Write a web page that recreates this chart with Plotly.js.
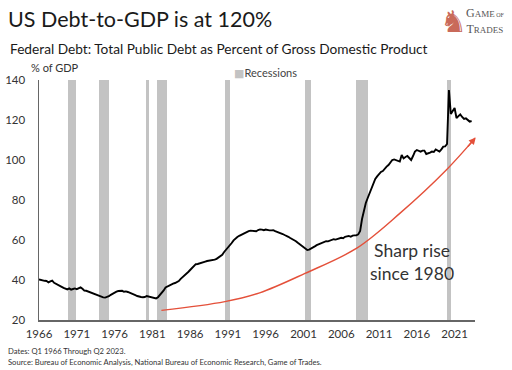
<!DOCTYPE html>
<html>
<head>
<meta charset="utf-8">
<script src="https://cdn.plot.ly/plotly-3.0.1.min.js"></script>
<style>
html,body{margin:0;padding:0;background:#fff;}
#chart{width:512px;height:370px;}
</style>
</head>
<body>
<div id="chart"></div>
<script>
// Quarterly Federal debt as % of GDP, Q1 1966 .. Q2 2023
const startYear = 1966;
const debtPct = [
  40.3, 40.0, 39.8, 39.6,   // 1966
  39.5, 38.8, 39.3, 39.7,   // 1967
  38.6, 38.0, 37.6, 37.0,   // 1968
  36.6, 36.1, 35.5, 35.3,   // 1969
  35.8, 35.2, 35.5, 35.8,   // 1970
  35.4, 35.9, 36.3, 35.6,   // 1971
  34.7, 34.6, 34.2, 33.8,   // 1972
  33.6, 33.1, 32.8, 32.5,   // 1973
  32.2, 31.7, 31.3, 31.2,   // 1974
  31.4, 31.9, 32.6, 33.2,   // 1975
  33.7, 34.2, 34.5, 34.6,   // 1976
  34.6, 34.1, 34.3, 34.0,   // 1977
  33.5, 33.0, 32.7, 32.4,   // 1978
  32.0, 31.6, 31.5, 31.4,   // 1979
  31.5, 32.0, 31.7, 31.4,   // 1980
  31.3, 31.0, 30.8, 31.4,   // 1981
  32.4, 33.4, 34.8, 36.3,   // 1982
  36.8, 37.5, 37.8, 38.2,   // 1983
  38.5, 38.9, 39.5, 40.6,   // 1984
  41.4, 42.1, 42.9, 44.0,   // 1985
  45.0, 46.0, 47.2, 47.9,   // 1986
  48.0, 48.4, 48.7, 49.1,   // 1987
  49.2, 49.5, 49.6, 49.8,   // 1988
  49.9, 50.2, 50.6, 51.2,   // 1989
  52.0, 52.6, 54.0, 55.0,   // 1990
  56.3, 57.5, 58.5, 59.8,   // 1991
  60.8, 61.5, 62.1, 62.6,   // 1992
  63.2, 63.6, 64.2, 64.4,   // 1993
  64.7, 64.5, 64.6, 64.4,   // 1994
  65.0, 65.3, 65.2, 64.9,   // 1995
  65.2, 64.9, 64.8, 64.8,   // 1996
  64.9, 64.4, 64.1, 63.9,   // 1997
  63.6, 63.0, 62.5, 62.2,   // 1998
  61.6, 61.0, 60.6, 60.1,   // 1999
  59.4, 58.6, 57.8, 57.0,   // 2000
  56.2, 55.4, 55.0, 55.2,   // 2001
  55.6, 56.3, 56.8, 57.4,   // 2002
  57.8, 58.3, 58.7, 59.2,   // 2003
  59.4, 59.3, 59.8, 60.2,   // 2004
  60.4, 60.2, 60.6, 60.9,   // 2005
  61.1, 60.9, 61.6, 61.8,   // 2006
  62.0, 61.6, 62.2, 62.3,   // 2007
  62.3, 62.8, 64.5, 70.5,   // 2008
  75.0, 78.5, 81.0, 83.5,   // 2009
  85.8, 88.0, 90.5, 91.8,   // 2010
  93.0, 94.0, 94.5, 95.8,   // 2011
  96.7, 97.5, 99.0, 100.0,  // 2012
  100.3, 100.0, 99.5, 99.2, // 2013
  102.5, 100.8, 101.5, 102.0, // 2014
  101.0, 100.0, 102.0, 104.2, // 2015
  105.0, 104.5, 104.2, 104.7, // 2016
  104.7, 103.0, 103.2, 103.7, // 2017
  104.2, 104.0, 105.3, 104.8, // 2018
  104.2, 105.3, 106.7, 106.8, // 2019
  108.0, 135.0, 123.0, 124.5, // 2020
  126.0, 121.0, 121.7, 122.8, // 2021
  121.5, 120.5, 120.8, 120.0, // 2022
  119.2, 119.5               // 2023
];

// NBER recessions (start, end as decimal years)
const recStart = [1969.9, 1973.9, 1980.1, 1981.55, 1990.55, 2001.2, 2007.9, 2020.0];
const recEnd   = [1970.9, 1975.2, 1980.6, 1982.9, 1991.25, 2001.95, 2009.5, 2020.55];

// Annotation curve "Sharp rise since 1980"
const arrowX = [1982.2, 1990.6, 1995.2, 2001.2, 2008.0, 2013.75, 2019.9, 2023.8];
const arrowY = [24.8, 29.2, 33.6, 43.3, 55.8, 73.3, 95.0, 111.3];

const xTickVals = [1966, 1971, 1976, 1981, 1986, 1991, 1996, 2001, 2006, 2011, 2016, 2021];
const yTickVals = [20, 40, 60, 80, 100, 120, 140];

const debtX = debtPct.map((v, i) => startYear + i / 4);

const recMid = recStart.map((s, i) => (s + recEnd[i]) / 2);
const recWidth = recStart.map((s, i) => recEnd[i] - s);
const recHeight = recStart.map(() => 120);

const FONT = 'Lato, "Open Sans", sans-serif';
const RED = '#e4503a';
const REC_GREY = '#c3c3c3';

const traces = [
  {
    type: 'bar', name: 'Recessions',
    x: recMid, y: recHeight, base: 20, width: recWidth,
    marker: {color: REC_GREY, line: {width: 0}},
    hoverinfo: 'skip', showlegend: false
  },
  {
    type: 'scatter', mode: 'lines',
    x: arrowX, y: arrowY,
    line: {color: RED, width: 1.4, shape: 'spline', smoothing: 1},
    showlegend: false, hoverinfo: 'skip'
  },
  {
    type: 'scatter', mode: 'lines', name: 'Debt',
    x: debtX, y: debtPct,
    line: {color: '#000', width: 1.9},
    showlegend: false
  }
];

const n = arrowX.length;
const layout = {
  width: 512, height: 370,
  margin: {l: 39, r: 37, t: 80, b: 50},
  paper_bgcolor: '#fff', plot_bgcolor: '#fff',
  font: {family: FONT, color: '#333', size: 11},
  showlegend: false,
  bargap: 0,
  xaxis: {
    range: [1966, 2023.7], showgrid: false, zeroline: false,
    tickvals: xTickVals, ticktext: xTickVals.map(String),
    ticks: '', showline: true, linecolor: '#666', linewidth: 1.5,
    tickfont: {size: 11.5, color: '#333'}, ticklabelstandoff: 3
  },
  yaxis: {
    range: [20, 140], showgrid: false, zeroline: false,
    tickvals: yTickVals, ticks: '', showline: true,
    linecolor: '#666', linewidth: 1.5,
    tickfont: {size: 11.5, color: '#333'}, ticklabelstandoff: 10
  },
  title: {
    text: 'US Debt-to-GDP is at 120%',
    font: {family: FONT, size: 21.5, color: '#1a1a1a'},
    x: 8 / 512, xanchor: 'left', xref: 'container',
    y: 1 - 19 / 370, yanchor: 'middle', yref: 'container'
  },
  annotations: [
    {
      text: 'Federal Debt: Total Public Debt as Percent of Gross Domestic Product',
      xref: 'paper', yref: 'paper', x: -0.0711, y: 1.1333,
      xanchor: 'left', yanchor: 'middle', showarrow: false,
      font: {size: 13.7, color: '#1a1a1a'}
    },
    {
      text: '% of GDP', xref: 'paper', yref: 'paper', x: -0.0229, y: 1.054,
      xanchor: 'left', yanchor: 'middle', showarrow: false,
      font: {size: 11, color: '#333'}
    },
    {
      text: '<span style="color:' + REC_GREY + ';font-family:DejaVu Sans">■</span>Recessions',
      xref: 'paper', yref: 'paper', x: (232 - 39) / 436, y: (320 - 72.7) / 240,
      xanchor: 'left', yanchor: 'middle', showarrow: false,
      font: {size: 11, color: '#444'}
    },
    {
      text: 'Sharp rise<br>since 1980', xref: 'x', yref: 'y',
      x: 2015.3, y: 49, xanchor: 'center', yanchor: 'middle',
      showarrow: false, align: 'center',
      font: {size: 17.5, color: '#333'}
    },
    {
      text: '', xref: 'x', yref: 'y', axref: 'x', ayref: 'y',
      x: arrowX[n - 1], y: arrowY[n - 1],
      ax: 2022.6, ay: 106.0,
      showarrow: true, arrowhead: 2, arrowsize: 1, arrowwidth: 1.4,
      arrowcolor: RED, standoff: 0
    },
    {
      text: 'Dates: Q1 1966 Through Q2 2023.', xref: 'paper', yref: 'paper',
      x: -0.0757, y: -0.129, xanchor: 'left', yanchor: 'middle',
      showarrow: false, font: {size: 7.65, color: '#333'}
    },
    {
      text: 'Source: Bureau of Economic Analysis, National Bureau of Economic Research, Game of Trades.',
      xref: 'paper', yref: 'paper', x: -0.0757, y: -0.175,
      xanchor: 'left', yanchor: 'middle', showarrow: false,
      font: {size: 7.65, color: '#333'}
    },
    {
      text: '♞', xref: 'paper', yref: 'paper', x: (453 - 39) / 436, y: (320 - 21) / 240,
      xanchor: 'center', yanchor: 'middle', showarrow: false,
      font: {family: 'DejaVu Sans', size: 30, color: '#c96a5a'}
    },
    {
      text: 'G<span style="font-size:9px">AME</span><span style="font-size:6px"> OF</span><br>T<span style="font-size:9px">RADES</span>',
      xref: 'paper', yref: 'paper', x: (485 - 39) / 436, y: (320 - 21) / 240,
      xanchor: 'center', yanchor: 'middle', showarrow: false, align: 'center',
      font: {family: '"Liberation Serif", serif', size: 12, color: '#555'}
    }
  ]
};

Plotly.newPlot('chart', traces, layout, {displayModeBar: false, staticPlot: true});
</script>
</body>
</html>
